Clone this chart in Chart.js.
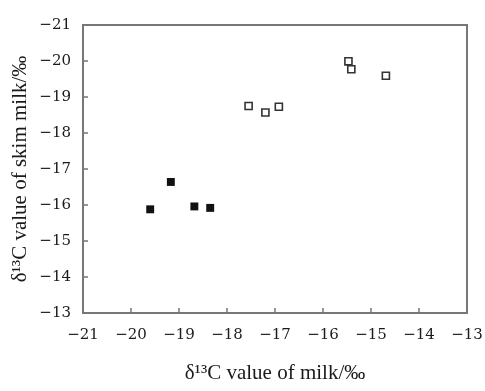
<!DOCTYPE html>
<html>
<head>
<meta charset="utf-8">
<script src="https://cdn.jsdelivr.net/npm/chart.js@4.4.0/dist/chart.umd.min.js"></script>
<style>
  html, body { margin: 0; padding: 0; background: #fff; }
  #wrap { width: 485px; height: 391px; }
</style>
</head>
<body>
<div id="wrap"><canvas id="myChart" width="485" height="391"></canvas></div>
<script>
'use strict';

// milk δ13C (x) vs skim milk δ13C (y)
let filledX = [-19.60, -19.17, -18.68, -18.35];
let filledY = [-15.88, -16.64, -15.96, -15.92];
let openX = [-17.55, -17.20, -16.92, -15.47, -15.41, -14.69];
let openY = [-18.75, -18.57, -18.73, -19.99, -19.77, -19.59];
let xTicks = [-21, -20, -19, -18, -17, -16, -15, -14, -13];
let yTicks = [-21, -20, -19, -18, -17, -16, -15, -14, -13];

function toPoints(xs, ys) {
  let pts = [];
  for (let i = 0; i < xs.length; i++) {
    pts.push({ x: xs[i], y: ys[i] });
  }
  return pts;
}

function minusLabel(v) {
  return String(v).replace('-', '\u2212');
}

let axisColor = '#777';
let textColor = '#1a1a1a';
let serif = "'Liberation Serif', 'DejaVu Serif', serif";
let tickFont = "'DejaVu Serif', serif";

// inward tick marks and frame
let frame = {
  id: 'frame',
  afterDraw(chart) {
    let ctx = chart.ctx;
    let a = chart.chartArea;
    let xs = chart.scales.x;
    let ys = chart.scales.y;
    ctx.save();
    ctx.strokeStyle = axisColor;
    ctx.lineWidth = 2;
    ctx.strokeRect(a.left, a.top, a.right - a.left, a.bottom - a.top);
    ctx.lineWidth = 1.5;
    ctx.beginPath();
    for (let i = 1; i < xTicks.length - 1; i++) {
      let px = xs.getPixelForValue(xTicks[i]);
      ctx.moveTo(px, a.bottom);
      ctx.lineTo(px, a.bottom - 5);
    }
    for (let i = 1; i < yTicks.length - 1; i++) {
      let py = ys.getPixelForValue(yTicks[i]);
      ctx.moveTo(a.left, py);
      ctx.lineTo(a.left + 5, py);
    }
    ctx.stroke();
    ctx.restore();
  }
};

let ctx = document.getElementById('myChart').getContext('2d');
let myChart = new Chart(ctx, {
  type: 'scatter',
  data: {
    datasets: [{
      label: 'filled',
      data: toPoints(filledX, filledY),
      pointStyle: 'rect',
      pointRadius: 5.6,
      backgroundColor: '#111',
      borderColor: '#111',
      borderWidth: 0
    }, {
      label: 'open',
      data: toPoints(openX, openY),
      pointStyle: 'rect',
      pointRadius: 5,
      backgroundColor: '#fff',
      borderColor: '#333',
      borderWidth: 1.6
    }]
  },
  options: {
    responsive: false,
    animation: false,
    events: [],
    layout: { padding: { top: 25, right: 18, left: 0, bottom: 0 } },
    plugins: {
      legend: { display: false },
      tooltip: { enabled: false }
    },
    scales: {
      x: {
        type: 'linear',
        min: -21,
        max: -13,
        afterBuildTicks(scale) { scale.ticks = xTicks.map(v => ({ value: v })); },
        afterFit(scale) {
          scale.height = 78;
          scale.paddingRight = 0;
          scale.paddingLeft = 0;
        },
        grid: { display: false },
        border: { display: false },
        ticks: {
          color: textColor,
          padding: 5,
          font: { family: tickFont, size: 15 },
          callback: v => minusLabel(v)
        },
        title: {
          display: true,
          text: 'δ¹³C value of milk/‰',
          color: textColor,
          font: { family: serif, size: 21 },
          padding: { top: 4, bottom: 5 }
        }
      },
      y: {
        type: 'linear',
        reverse: true,
        min: -21,
        max: -13,
        afterBuildTicks(scale) { scale.ticks = yTicks.map(v => ({ value: v })); },
        afterFit(scale) { scale.width = 83; },
        grid: { display: false },
        border: { display: false },
        ticks: {
          color: textColor,
          padding: 4,
          font: { family: tickFont, size: 15 },
          callback: v => minusLabel(v)
        },
        title: {
          display: true,
          text: 'δ¹³C value of skim milk/‰',
          color: textColor,
          font: { family: serif, size: 21 },
          padding: { top: 8, bottom: 4 }
        }
      }
    }
  },
  plugins: [frame]
});
</script>
</body>
</html>
